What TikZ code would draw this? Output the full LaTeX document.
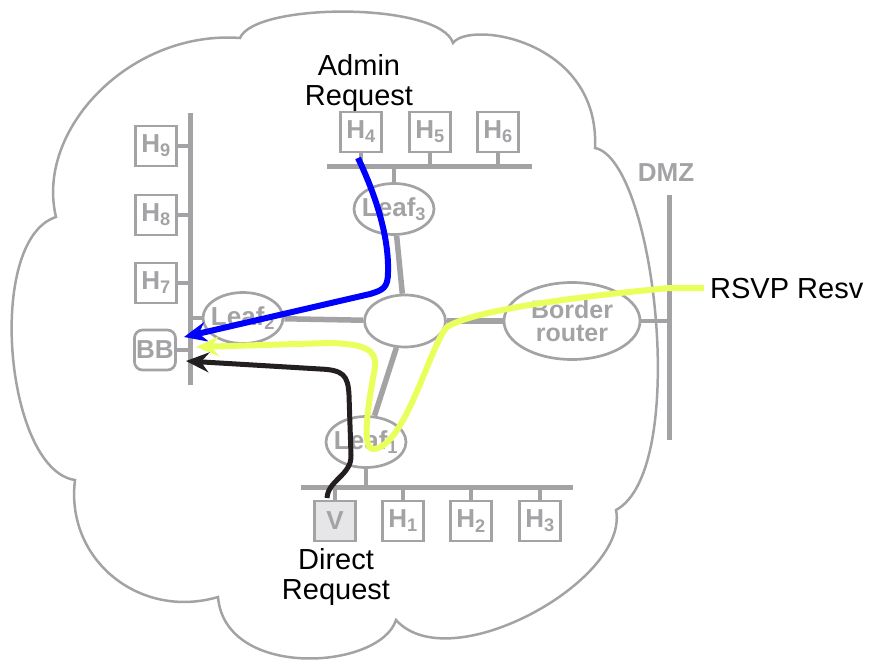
\documentclass[tikz,border=0pt]{standalone}
\usepackage{fontspec}
\setmainfont{Liberation Sans}
\usetikzlibrary{shapes.geometric}
\usetikzlibrary{arrows.meta}
\definecolor{netgray}{RGB}{163,163,166}
\definecolor{vfill}{RGB}{230,230,232}
\definecolor{resvyellow}{RGB}{232,255,92}
\definecolor{reqblack}{RGB}{35,31,32}
\tikzset{hostbox/.style={draw=netgray,line width=2.7pt,minimum width=41pt,minimum height=40pt,
            inner sep=0pt,text=netgray,font=\fontsize{26}{26}\selectfont\bfseries},
    leafnode/.style={ellipse,draw=netgray,line width=2.7pt,minimum width=80pt,minimum height=51pt,inner sep=0pt},
    graytext/.style={text=netgray,inner sep=0pt,font=\fontsize{26}{26}\selectfont\bfseries},
    reqtext/.style={inner sep=0pt,align=center,font=\fontsize{29}{30}\selectfont},
    bus/.style={netgray,line width=5pt},
    link/.style={netgray,line width=4pt},
    trunk/.style={netgray,line width=5.5pt},
    request/.style={line width=6pt,line join=round,-{Stealth[length=23pt,width=20pt,inset=8pt]}}
}
\begin{document}
\begin{tikzpicture}[x=1pt,y=-1pt]
           \useasboundingbox (0,0) rectangle (874,660);
           % cloud
           \draw[netgray,line width=2.5pt] (56,217) .. controls (35,130) and (130,30) .. (240,38)
              .. controls (255,2) and (440,2) .. (453,43)
              .. controls (470,20) and (600,40) .. (595,148)
              .. controls (655,160) and (690,470) .. (616,510)
              .. controls (630,580) and (450,680) .. (396,620)
              .. controls (380,670) and (225,680) .. (218,597)
              .. controls (140,620) and (65,560) .. (75,480)
              .. controls (5,470) and (-15,240) .. cycle;
           % buses
           \coordinate (lefttop) at (190,113);
           \coordinate (leftbot) at (190,385);
           \coordinate (topleft) at (327,167);
           \coordinate (topright) at (532,167);
           \coordinate (botleft) at (301,487);
           \coordinate (botright) at (573,487);
           \coordinate (dmztop) at (669,195);
           \coordinate (dmzbot) at (669,440);
           \draw[bus] (lefttop) -- (leftbot);
           \draw[bus] (topleft) -- (topright);
           \draw[bus] (botleft) -- (botright);
           \draw[bus] (dmztop) -- (dmzbot);
           \node[graytext,anchor=base] (dmzlabel) at (666,182) {DMZ};
           % hosts
           \node[hostbox] (h9) at (156,146) {H\textsubscript{9}};
           \node[hostbox] (h8) at (156,215) {H\textsubscript{8}};
           \node[hostbox] (h7) at (156,283) {H\textsubscript{7}};
           \node[hostbox,rounded corners=8pt] (bb) at (155,350) {BB};
           \node[hostbox] (h4) at (361,132) {H\textsubscript{4}};
           \node[hostbox] (h5) at (430,132) {H\textsubscript{5}};
           \node[hostbox] (h6) at (498,132) {H\textsubscript{6}};
           \node[hostbox,fill=vfill] (v) at (335,521) {V};
           \node[hostbox] (h1) at (403,521) {H\textsubscript{1}};
           \node[hostbox] (h2) at (471,521) {H\textsubscript{2}};
           \node[hostbox] (h3) at (540,521) {H\textsubscript{3}};
           \draw[link] (h9.east) -- (h9.east -| lefttop);
           \draw[link] (h8.east) -- (h8.east -| lefttop);
           \draw[link] (h7.east) -- (h7.east -| lefttop);
           \draw[link] (bb.east) -- (bb.east -| lefttop);
           \draw[link] (h4.south) -- (h4.south |- topleft);
           \draw[link] (h5.south) -- (h5.south |- topleft);
           \draw[link] (h6.south) -- (h6.south |- topleft);
           \draw[link] (v.north) -- (v.north |- botleft);
           \draw[link] (h1.north) -- (h1.north |- botleft);
           \draw[link] (h2.north) -- (h2.north |- botleft);
           \draw[link] (h3.north) -- (h3.north |- botleft);
           % routers
           \node[leafnode] (leaf3) at (394,209) {};
           \node[leafnode] (leaf2) at (243,318) {};
           \node[leafnode] (leaf1) at (366,442) {};
           \node[leafnode,minimum width=81pt,minimum height=52pt] (core) at (405,321) {};
           \node[leafnode,minimum width=136pt,minimum height=77pt,align=center,text=netgray,
                 font=\fontsize{25}{23}\selectfont\bfseries] (border) at (572,321) {Border\\router};
           \node[graytext] (leaf3label) at (leaf3) {Leaf\textsubscript{3}};
           \node[graytext] (leaf2label) at (leaf2) {Leaf\textsubscript{2}};
           \node[graytext] (leaf1label) at (leaf1) {Leaf\textsubscript{1}};
           \draw[link] (leaf2.west) -- (leaf2.west -| lefttop);
           \draw[link] (leaf3.north) -- (leaf3.north |- topleft);
           \draw[link] (leaf1.south) -- (leaf1.south |- botleft);
           \draw[link] (border.east) -- (border.east -| dmztop);
           \draw[trunk] (leaf2) -- (core);
           \draw[trunk] (core) -- (border);
           \draw[trunk] (leaf3) -- (core);
           \draw[trunk] (core) -- (leaf1);
           % labels
           \node[reqtext] (adminlabel) at (359,83) {Admin\\Request};
           \node[reqtext] (directlabel) at (336,577) {Direct\\Request};
           \node[reqtext,anchor=base west] (rsvplabel) at (710,298) {RSVP Resv};
           % request paths
           \coordinate (adminstart) at (358,158);
           \coordinate (admintip) at (184,337);
           \coordinate (resvtip) at (196,347);
           \coordinate (directstart) at (327,498);
           \coordinate (directtip) at (186,361);
           \draw[request,blue] (adminstart) .. controls (378,200) and (389,240) .. (388,272)
              .. controls (388,288) and (383,290) .. (370,294) -- (admintip);
           \draw[request,resvyellow] ([xshift=-6pt]rsvplabel.west) -- (670,288)
              .. controls (560,298) and (470,312) .. (447,327)
              .. controls (430,345) and (405,448) .. (373,449)
              .. controls (360,449) and (370,395) .. (375,367)
              .. controls (377,350) and (365,344) .. (330,343) -- (resvtip);
           \draw[request,reqblack,line width=5pt] (directstart) .. controls (328,480) and (352,475) .. (351,455)
              -- (349,395) .. controls (348,375) and (343,370) .. (320,369) -- (directtip);
         \end{tikzpicture}
\end{document}
